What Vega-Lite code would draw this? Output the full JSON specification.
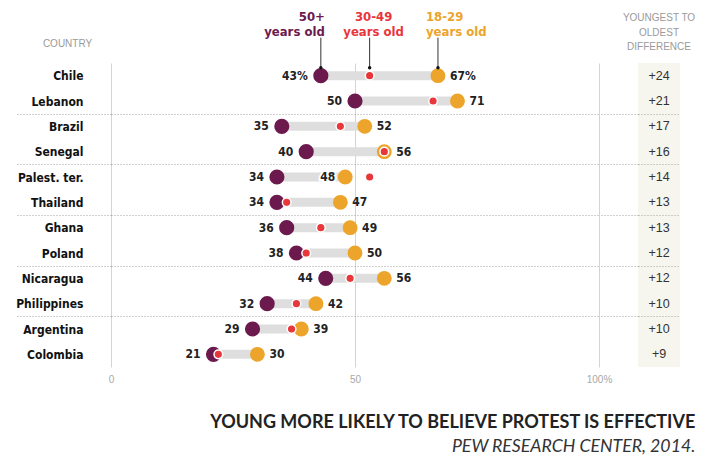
{
  "$schema": "https://vega.github.io/schema/vega-lite/v6.json",
  "background": "white",
  "padding": {"left": 15, "top": 10, "right": 18, "bottom": 3},
  "config": {
    "view": {"stroke": null},
    "font": "DejaVu Sans Condensed, Liberation Sans",
    "text": {"font": "DejaVu Sans Condensed, Liberation Sans"}
  },
  "datasets": {
    "rows": [
      {"country": "Chile", "old": 43, "mid": 53, "young": 67, "diff": 24},
      {"country": "Lebanon", "old": 50, "mid": 66, "young": 71, "diff": 21},
      {"country": "Brazil", "old": 35, "mid": 47, "young": 52, "diff": 17},
      {"country": "Senegal", "old": 40, "mid": 56, "young": 56, "diff": 16},
      {"country": "Palest. ter.", "old": 34, "mid": 53, "young": 48, "diff": 14},
      {"country": "Thailand", "old": 34, "mid": 36, "young": 47, "diff": 13},
      {"country": "Ghana", "old": 36, "mid": 43, "young": 49, "diff": 13},
      {"country": "Poland", "old": 38, "mid": 40, "young": 50, "diff": 12},
      {"country": "Nicaragua", "old": 44, "mid": 49, "young": 56, "diff": 12},
      {"country": "Philippines", "old": 32, "mid": 38, "young": 42, "diff": 10},
      {"country": "Argentina", "old": 29, "mid": 37, "young": 39, "diff": 10},
      {"country": "Colombia", "old": 21, "mid": 22, "young": 30, "diff": 9}
    ]
  },
  "title": {
    "text": "YOUNG MORE LIKELY TO BELIEVE PROTEST IS EFFECTIVE",
    "subtitle": "PEW RESEARCH CENTER, 2014.",
    "orient": "bottom",
    "anchor": "end",
    "font": "Lato",
    "fontSize": 18,
    "fontWeight": "bold",
    "color": "#222222",
    "subtitleFont": "Lato",
    "subtitleFontStyle": "italic",
    "subtitleFontWeight": "normal",
    "subtitleFontSize": 17.7,
    "subtitleColor": "#333333",
    "subtitlePadding": 6,
    "offset": 30
  },
  "bounds": "flush",
  "spacing": 39,
  "hconcat": [
    {
      "width": 488,
      "height": 304,
      "data": {"name": "rows"},
      "encoding": {
        "y": {
          "field": "country",
          "type": "nominal",
          "sort": null,
          "scale": {"type": "band", "paddingInner": 0, "paddingOuter": 0},
          "axis": {
            "title": "COUNTRY",
            "titleAngle": 0,
            "titleX": -44,
            "titleY": -20,
            "titleAlign": "center",
            "titleBaseline": "middle",
            "titleFont": "Liberation Sans",
            "titleFontSize": 10,
            "titleFontWeight": "normal",
            "titleColor": "#9a9a9a",
            "domain": false,
            "labelFont": "DejaVu Sans Condensed",
            "labelFontSize": 12,
            "labelFontWeight": "bold",
            "labelColor": "#111111",
            "labelPadding": -66,
            "tickSize": 94,
            "tickBand": "extent",
            "tickColor": "#a0a0a0",
            "tickDash": [1, 2],
            "tickWidth": 1,
            "tickOpacity": {"condition": {"test": "indexof(['Lebanon','Senegal','Thailand','Poland','Philippines'], datum.value) >= 0", "value": 1}, "value": 0},
            "grid": true,
            "gridColor": "#a0a0a0",
            "gridDash": [1, 2],
            "gridWidth": 1,
            "gridOpacity": {"condition": {"test": "indexof(['Lebanon','Senegal','Thailand','Poland','Philippines'], datum.value) >= 0", "value": 1}, "value": 0}
          }
        }
      },
      "layer": [
        {
          "mark": {"type": "rule", "color": "#dedede", "strokeWidth": 9, "strokeCap": "butt"},
          "encoding": {
            "x": {
              "field": "old",
              "type": "quantitative",
              "scale": {"domain": [0, 100]},
              "axis": {
                "values": [0, 50, 100],
                "title": null,
                "domain": false,
                "ticks": false,
                "grid": true,
                "gridColor": "#d4d4d4",
                "gridWidth": 1,
                "labelFlush": false,
                "labelColor": "#a8a8a8",
                "labelFont": "Liberation Sans",
                "labelFontSize": 10,
                "labelPadding": 7,
                "labelExpr": "datum.value == 100 ? '100%' : datum.label"
              }
            },
            "x2": {"field": "young"}
          }
        },
        {
          "mark": {"type": "circle", "color": "#6c1a4e", "opacity": 1, "size": 230},
          "encoding": {"x": {"field": "old", "type": "quantitative"}}
        },
        {
          "mark": {"type": "circle", "color": "#eca42a", "opacity": 1, "size": 220},
          "encoding": {"x": {"field": "young", "type": "quantitative"}}
        },
        {
          "mark": {"type": "circle", "color": "#e8363b", "opacity": 1, "size": 75, "stroke": "white", "strokeWidth": 1.5},
          "encoding": {"x": {"field": "mid", "type": "quantitative"}}
        },
        {
          "mark": {"type": "text", "align": "right", "baseline": "middle", "dx": -13, "fontSize": 12, "fontWeight": "bold", "color": "#222222",
            "text": {"expr": "datum.country === 'Chile' ? datum.old + '%' : '' + datum.old"}},
          "encoding": {"x": {"field": "old", "type": "quantitative"}}
        },
        {
          "transform": [{"filter": "datum.mid <= datum.young"}],
          "mark": {"type": "text", "align": "left", "baseline": "middle", "dx": 12, "fontSize": 12, "fontWeight": "bold", "color": "#222222",
            "text": {"expr": "datum.country === 'Chile' ? datum.young + '%' : '' + datum.young"}},
          "encoding": {"x": {"field": "young", "type": "quantitative"}}
        },
        {
          "transform": [{"filter": "datum.mid > datum.young"}],
          "mark": {"type": "text", "align": "right", "baseline": "middle", "dx": -10, "fontSize": 12, "fontWeight": "bold", "color": "white", "stroke": "white", "strokeWidth": 4},
          "encoding": {"x": {"field": "young", "type": "quantitative"}, "text": {"field": "young", "type": "quantitative"}}
        },
        {
          "transform": [{"filter": "datum.mid > datum.young"}],
          "mark": {"type": "text", "align": "right", "baseline": "middle", "dx": -10, "fontSize": 12, "fontWeight": "bold", "color": "#222222"},
          "encoding": {"x": {"field": "young", "type": "quantitative"}, "text": {"field": "young", "type": "quantitative"}}
        },
        {
          "transform": [{"filter": "datum.country === 'Chile'"}, {"fold": ["old", "mid", "young"], "as": ["group", "value"]}],
          "mark": {"type": "rule", "color": "#333333", "strokeWidth": 1, "yOffset": -38, "y2Offset": -8},
          "encoding": {
            "x": {"field": "value", "type": "quantitative"},
            "y": {"field": "country", "type": "nominal", "sort": null, "bandPosition": 0.5},
            "y2": {"field": "country", "bandPosition": 0.5}
          }
        },
        {
          "transform": [{"filter": "datum.country === 'Chile'"}, {"fold": ["old", "mid", "young"], "as": ["group", "value"]}],
          "mark": {"type": "circle", "color": "#111111", "opacity": 1, "size": 12, "yOffset": -8},
          "encoding": {"x": {"field": "value", "type": "quantitative"}}
        },
        {
          "transform": [{"filter": "datum.country === 'Chile'"}],
          "mark": {"type": "text", "text": ["50+", "years old"], "align": "right", "baseline": "bottom", "dx": 4, "dy": -52, "lineHeight": 15, "fontSize": 13, "fontWeight": "bold", "color": "#6c1a4e"},
          "encoding": {"x": {"field": "old", "type": "quantitative"}}
        },
        {
          "transform": [{"filter": "datum.country === 'Chile'"}],
          "mark": {"type": "text", "text": ["30-49", "years old"], "align": "center", "baseline": "bottom", "dx": 4, "dy": -52, "lineHeight": 15, "fontSize": 13, "fontWeight": "bold", "color": "#e8363b"},
          "encoding": {"x": {"field": "mid", "type": "quantitative"}}
        },
        {
          "transform": [{"filter": "datum.country === 'Chile'"}],
          "mark": {"type": "text", "text": ["18-29", "years old"], "align": "left", "baseline": "bottom", "dx": -12, "dy": -52, "lineHeight": 15, "fontSize": 13, "fontWeight": "bold", "color": "#eca42a"},
          "encoding": {"x": {"field": "young", "type": "quantitative"}}
        }
      ]
    },
    {
      "width": 42,
      "height": 304,
      "view": {"fill": "#f6f6ee", "stroke": null},
      "title": {
        "text": ["YOUNGEST TO", "OLDEST", "DIFFERENCE"],
        "font": "Liberation Sans",
        "fontSize": 10,
        "fontWeight": "normal",
        "color": "#9a9a9a",
        "lineHeight": 14.5,
        "anchor": "middle",
        "offset": 11
      },
      "data": {"name": "rows"},
      "mark": {"type": "text", "font": "Liberation Sans", "fontSize": 12.5, "color": "#333333", "baseline": "middle"},
      "encoding": {
        "y": {
          "field": "country",
          "type": "nominal",
          "sort": null,
          "scale": {"type": "band", "paddingInner": 0, "paddingOuter": 0},
          "axis": {
            "title": null,
            "labels": false,
            "domain": false,
            "tickSize": 39,
            "tickBand": "extent",
            "tickColor": "#a0a0a0",
            "tickDash": [1, 2],
            "tickWidth": 1,
            "tickOpacity": {"condition": {"test": "indexof(['Lebanon','Senegal','Thailand','Poland','Philippines'], datum.value) >= 0", "value": 1}, "value": 0},
            "grid": true,
            "gridColor": "#a0a0a0",
            "gridDash": [1, 2],
            "gridWidth": 1,
            "gridOpacity": {"condition": {"test": "indexof(['Lebanon','Senegal','Thailand','Poland','Philippines'], datum.value) >= 0", "value": 1}, "value": 0}
          }
        },
        "text": {"field": "diff", "type": "quantitative", "format": "+d"}
      }
    }
  ]
}
